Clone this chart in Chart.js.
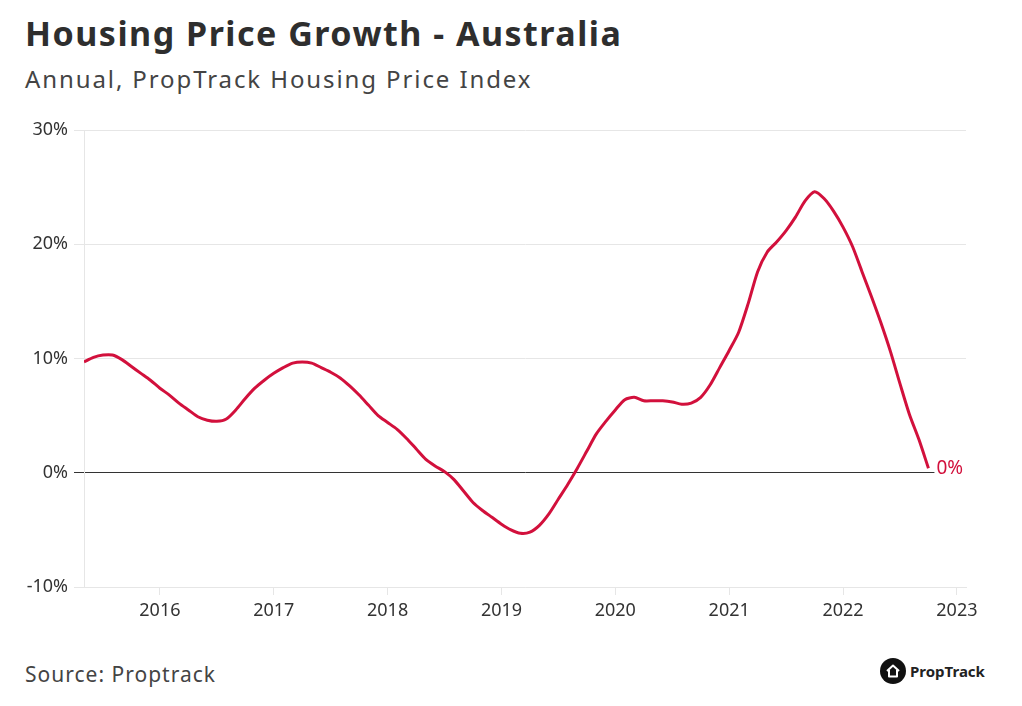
<!DOCTYPE html>
<html><head><meta charset="utf-8">
<script src="https://cdn.jsdelivr.net/npm/chart.js@4"></script>
<style>
html,body{margin:0;padding:0;background:#fff;}
body{width:1022px;height:706px;position:relative;overflow:hidden;font-family:"Noto Sans",sans-serif;color:#333;}
#title{position:absolute;left:25px;top:10px;font-size:34px;font-weight:700;color:#2e2e2e;white-space:nowrap;letter-spacing:1.5px;}
#sub{position:absolute;left:25px;top:62px;font-size:24px;font-weight:400;color:#444;white-space:nowrap;letter-spacing:1.9px;}
#src{position:absolute;left:25px;top:660px;font-size:21px;color:#444;white-space:nowrap;letter-spacing:1px;}
#logo{position:absolute;left:880px;top:658px;display:flex;align-items:center;font-size:15px;font-weight:700;color:#222;}
#logo .c{width:26px;height:26px;border-radius:50%;background:#111;margin-right:4px;display:flex;align-items:center;justify-content:center;}
canvas{position:absolute;left:0;top:0;}
</style></head><body>
<div id="title">Housing Price Growth - Australia</div>
<div id="sub">Annual, PropTrack Housing Price Index</div>
<div id="src">Source: Proptrack</div>
<div id="logo"><div class="c"><svg width="16" height="16" viewBox="0 0 16 16"><path d="M2 8 L8 2.5 L14 8 M4 7 V13.5 H12 V7" fill="none" stroke="#fff" stroke-width="2" stroke-linejoin="round"/></svg></div>PropTrack</div>
<canvas id="c" width="1022" height="706"></canvas>
<script>
const startYear = 2015, startMonth = 5; // May 2015
const growth = [
 9.7,10.1,10.3,10.3,9.9,9.3,8.7,8.1,
 7.4,6.8,6.1,5.5,4.9,4.6,4.5,4.7,5.5,6.5,7.4,8.1,
 8.7,9.2,9.6,9.7,9.6,9.2,8.8,8.3,7.6,6.8,5.9,5.0,
 4.4,3.8,3.0,2.1,1.2,0.6,0.1,-0.6,-1.6,-2.6,-3.3,-3.9,
 -4.5,-5.0,-5.3,-5.2,-4.6,-3.6,-2.3,-1.0,0.4,1.9,3.4,4.5,
 5.5,6.4,6.6,6.3,6.3,6.3,6.2,6.0,6.1,6.6,7.7,9.2,
 10.7,12.3,14.8,17.6,19.3,20.2,21.2,22.4,23.8,24.6,24.0,22.9,
 21.5,19.8,17.6,15.4,13.1,10.6,7.8,5.1,2.9,0.4
];
const yTicks = [-10,0,10,20,30];
const xTicks = [2016,2017,2018,2019,2020,2021,2022,2023];
const points = growth.map((v,i)=>({x: startYear + (startMonth-1+i)/12, y: v}));

const endLabel = {
  id:'endLabel',
  afterDatasetsDraw(chart){
    const meta = chart.getDatasetMeta(0);
    const last = meta.data[meta.data.length-1];
    const ctx = chart.ctx;
    const y0 = chart.scales.y.getPixelForValue(0);
    ctx.save();
    ctx.font = '19px "Noto Sans"';
    const txt = '0%';
    const w = ctx.measureText(txt).width;
    ctx.fillStyle='#fff';
    ctx.fillRect(last.x+6, y0-12, w+8, 22);
    ctx.fillStyle='#d2103c';
    ctx.textBaseline='middle';
    ctx.fillText(txt, last.x+8, y0-4);
    ctx.restore();
  }
};

new Chart(document.getElementById('c'), {
  type:'line',
  data:{datasets:[{data:points, borderColor:'#d2103c', borderWidth:3, pointRadius:0, tension:0.25, fill:false}]},
  options:{
    responsive:false, animation:false,
    layout:{padding:{left:0,right:56,top:130,bottom:79}},
    plugins:{legend:{display:false},tooltip:{enabled:false}},
    scales:{
      x:{type:'linear', min:startYear+(startMonth-1)/12, max:2023.08,
        afterBuildTicks(s){s.ticks = xTicks.map(v=>({value:v}));},
        afterFit(s){s.height=40;},
        border:{color:'#e6e6e6',width:1},
        grid:{drawOnChartArea:false, drawTicks:true, tickLength:8, color:'#e6e6e6'},
        ticks:{color:'#333', font:{family:'Noto Sans',size:18}, padding:5, callback:v=>String(v), maxRotation:0}
      },
      y:{min:-10,max:30,
        afterBuildTicks(s){s.ticks = yTicks.map(v=>({value:v}));},
        afterFit(s){s.width=84;},
        border:{color:'#e6e6e6',width:1},
        grid:{color:ctx=>ctx.tick && ctx.tick.value===0 ? '#333' : '#e6e6e6', tickLength:10, lineWidth:1},
        ticks:{color:'#333', font:{family:'Noto Sans',size:18}, padding:6, callback:v=>v+'%'}
      }
    }
  },
  plugins:[endLabel]
});
</script>
</body></html>
